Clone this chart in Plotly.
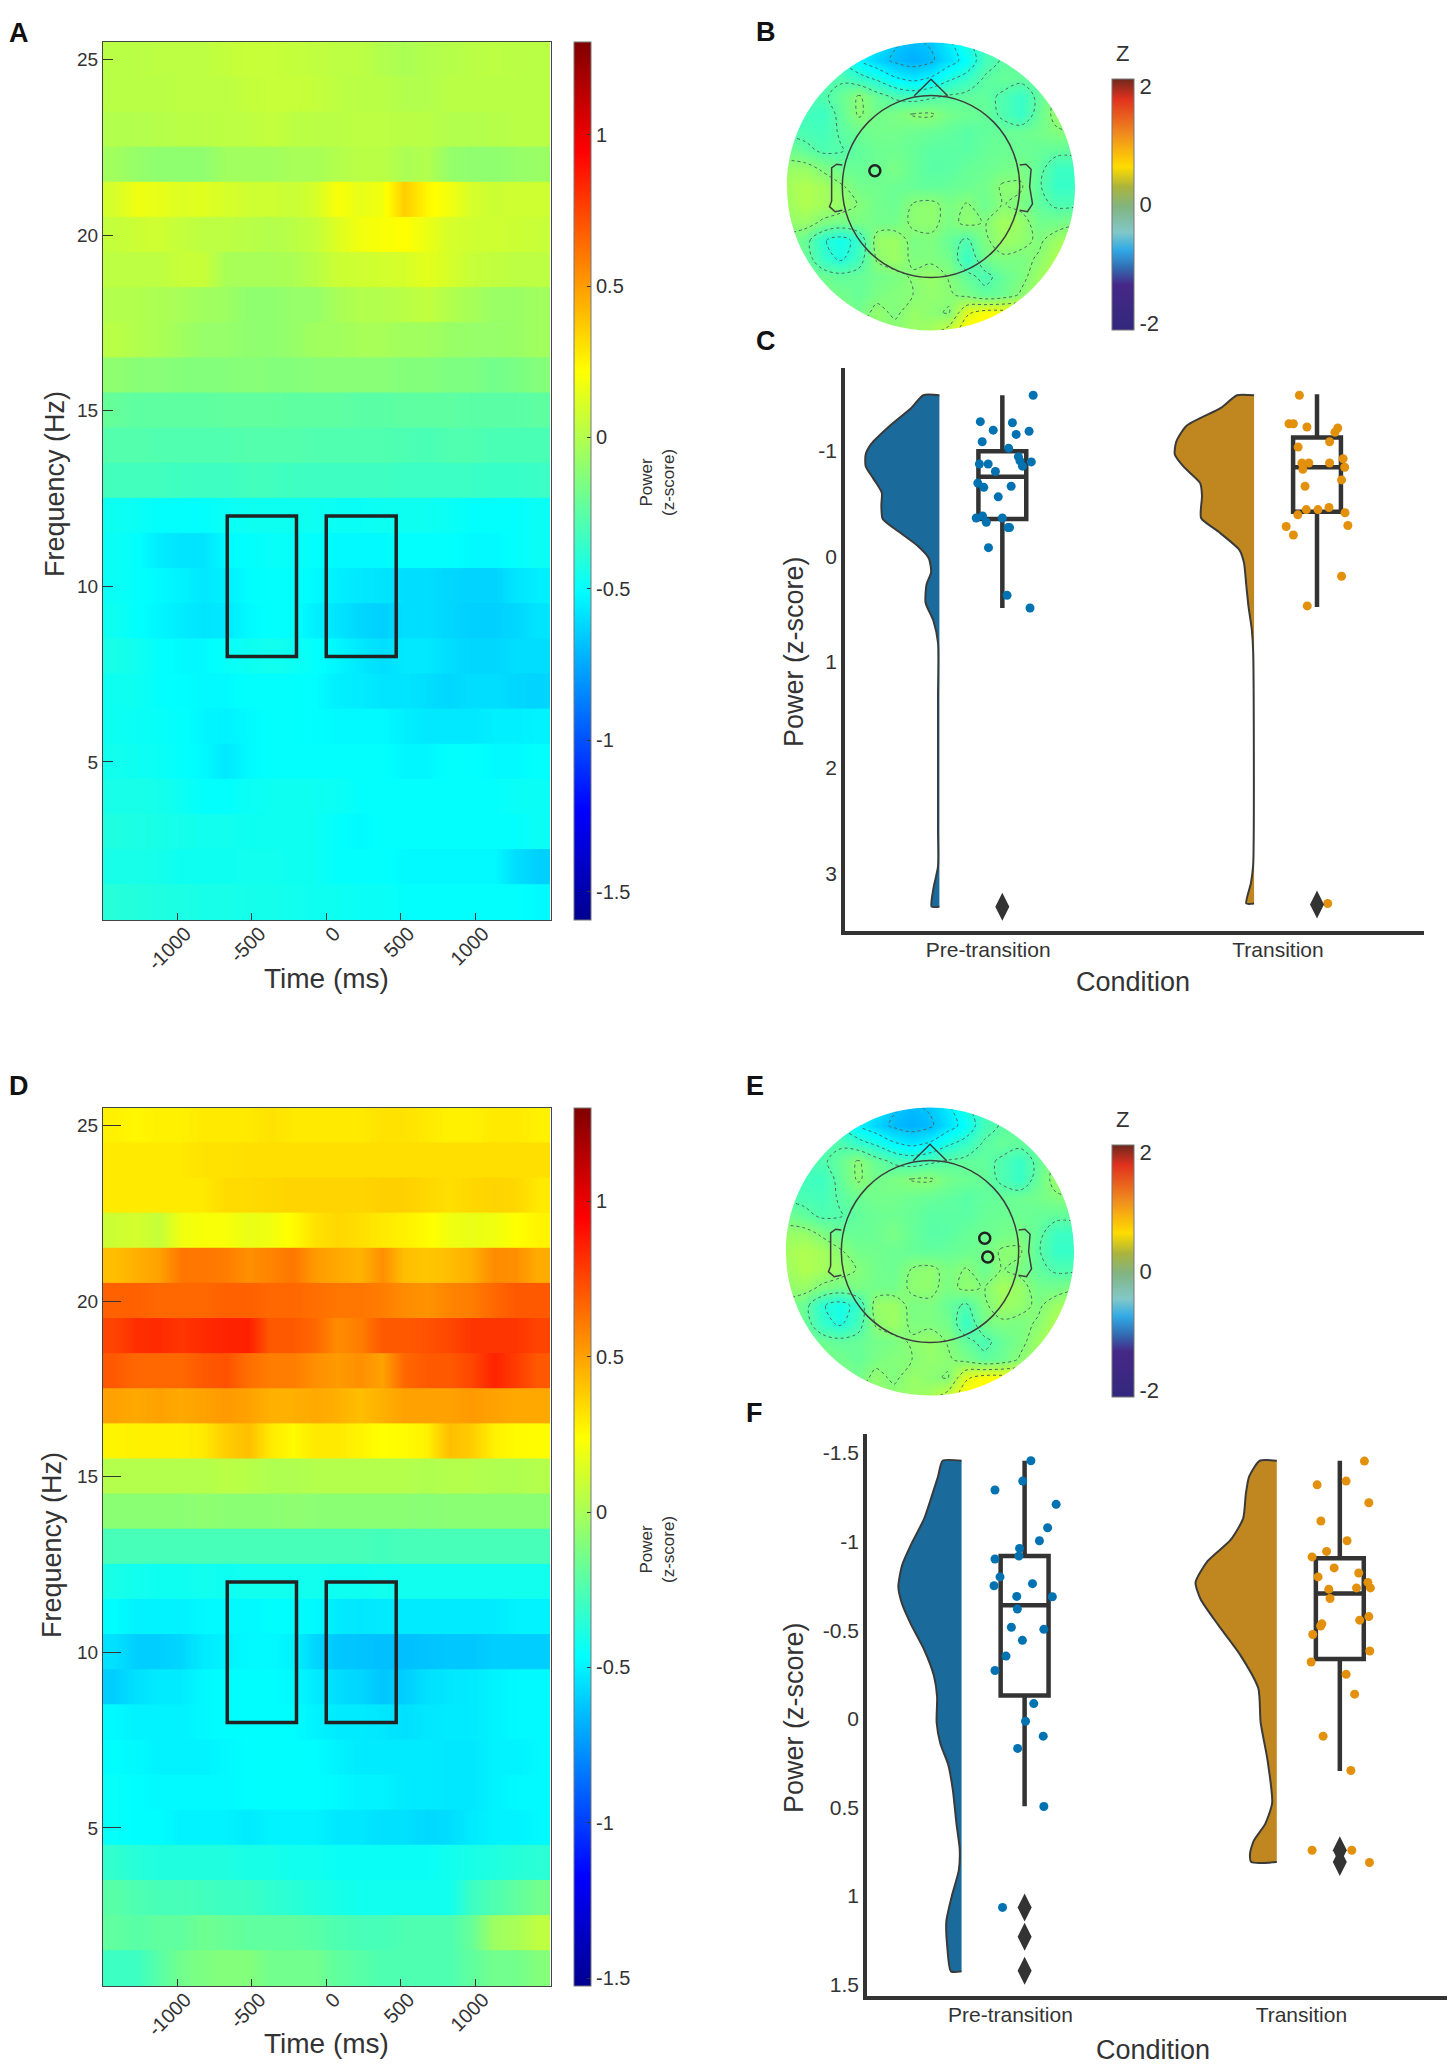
# =========================
# plot.py - power maps, topographies and rainclouds
# =========================
import plotly.graph_objects as go

W, H = 1453, 2067
FONT = "Liberation Sans"
DARK = "#333333"

# =========================
# Time-frequency data
# =========================
time_bins = [-1425, -1275, -1125, -975, -825, -675, -525, -375, -225, -75,
             75, 225, 375, 525, 675, 825, 975, 1125, 1275, 1425]
freq_bins = [25, 24, 23, 22, 21, 20, 19, 18, 17, 16, 15, 14, 13,
             12, 11, 10, 9, 8, 7, 6, 5, 4, 3, 2, 1]

power_a = [
    [.02, .02, .03, .03, .03, .05, .06, .06, .05, .04, .03, .03, .0, -.02, .0, .01, .02, .03, .02, .02],
    [.02, .02, .02, .03, .03, .03, .05, .06, .06, .05, .03, .02, .02, .0, .0, .02, .02, .02, .02, .02],
    [.0, .0, .01, .02, .02, .03, .03, .05, .03, .02, .02, .03, .03, .02, .02, .0, .0, .01, .02, .02],
    [-.05, -.08, -.1, -.1, -.1, -.05, -.05, -.05, -.03, -.03, .0, .02, .02, -.02, .0, -.08, -.1, -.1, -.08, -.07],
    [.1, .17, .15, .12, .13, .1, .08, .08, .06, .1, .2, .15, .18, .36, .24, .18, .1, .07, .08, .08],
    [.05, .07, .08, .05, .03, .03, .02, .0, .02, .05, .12, .18, .2, .22, .16, .1, .08, .08, .07, .06],
    [.03, .03, .03, .06, .06, -.03, -.03, -.03, -.02, .02, .07, .08, .09, .1, .14, .1, .06, .04, .03, .03],
    [.0, .0, -.02, -.03, -.05, -.06, -.1, -.1, -.08, -.08, -.03, .0, .0, .02, .04, .0, -.03, -.07, -.07, -.05],
    [.02, .0, -.02, -.05, -.08, -.08, -.1, -.1, -.08, -.05, -.05, -.03, -.03, -.05, -.05, -.07, -.08, -.08, -.07, -.05],
    [-.1, -.12, -.12, -.13, -.13, -.13, -.12, -.13, -.13, -.12, -.12, -.12, -.12, -.13, -.13, -.15, -.15, -.18, -.16, -.13],
    [-.22, -.24, -.24, -.24, -.24, -.23, -.23, -.23, -.24, -.24, -.24, -.25, -.25, -.24, -.24, -.24, -.25, -.25, -.25, -.24],
    [-.27, -.27, -.28, -.28, -.28, -.28, -.27, -.27, -.27, -.28, -.28, -.28, -.28, -.29, -.3, -.28, -.28, -.3, -.3, -.3],
    [-.32, -.32, -.32, -.33, -.33, -.33, -.32, -.32, -.33, -.33, -.33, -.33, -.33, -.34, -.34, -.34, -.34, -.35, -.35, -.34],
    [-.47, -.48, -.5, -.5, -.5, -.48, -.47, -.47, -.47, -.47, -.48, -.48, -.47, -.47, -.47, -.48, -.5, -.5, -.5, -.48],
    [-.48, -.5, -.56, -.58, -.58, -.52, -.5, -.49, -.49, -.5, -.52, -.52, -.52, -.5, -.5, -.5, -.52, -.52, -.5, -.48],
    [-.48, -.5, -.52, -.54, -.57, -.55, -.51, -.5, -.5, -.52, -.55, -.57, -.58, -.6, -.6, -.62, -.63, -.63, -.58, -.55],
    [-.47, -.5, -.53, -.56, -.58, -.57, -.52, -.5, -.5, -.55, -.58, -.62, -.64, -.6, -.6, -.62, -.64, -.64, -.62, -.58],
    [-.44, -.46, -.5, -.52, -.52, -.49, -.47, -.46, -.47, -.5, -.53, -.57, -.6, -.57, -.57, -.6, -.62, -.62, -.6, -.6],
    [-.47, -.47, -.5, -.51, -.52, -.52, -.5, -.5, -.5, -.51, -.55, -.56, -.58, -.58, -.6, -.62, -.6, -.6, -.62, -.63],
    [-.47, -.48, -.49, -.5, -.53, -.54, -.52, -.5, -.5, -.51, -.52, -.52, -.52, -.55, -.57, -.57, -.57, -.55, -.55, -.54],
    [-.46, -.47, -.48, -.5, -.52, -.57, -.52, -.5, -.5, -.5, -.5, -.5, -.5, -.53, -.53, -.5, -.5, -.52, -.52, -.5],
    [-.44, -.44, -.45, -.47, -.5, -.5, -.48, -.47, -.47, -.47, -.48, -.5, -.5, -.5, -.5, -.5, -.5, -.5, -.48, -.48],
    [-.42, -.43, -.44, -.45, -.46, -.46, -.47, -.47, -.47, -.47, -.5, -.52, -.5, -.5, -.5, -.5, -.5, -.5, -.5, -.48],
    [-.44, -.44, -.45, -.47, -.47, -.47, -.46, -.46, -.47, -.47, -.5, -.5, -.5, -.52, -.52, -.52, -.52, -.52, -.6, -.64],
    [-.4, -.41, -.42, -.43, -.44, -.44, -.45, -.45, -.46, -.47, -.47, -.48, -.48, -.5, -.5, -.5, -.5, -.5, -.5, -.52],
]

power_d = [
    [.28, .26, .28, .28, .3, .3, .3, .32, .3, .3, .3, .3, .32, .32, .3, .28, .28, .3, .3, .28],
    [.3, .3, .3, .3, .32, .32, .33, .33, .33, .33, .33, .33, .33, .33, .33, .33, .33, .33, .33, .33],
    [.3, .3, .3, .3, .3, .34, .34, .35, .36, .36, .36, .36, .37, .37, .35, .33, .35, .36, .35, .3],
    [.1, .12, .08, .2, .22, .22, .18, .2, .25, .32, .35, .33, .3, .28, .25, .2, .18, .2, .24, .27],
    [.42, .46, .5, .62, .62, .6, .55, .58, .62, .52, .48, .45, .55, .42, .4, .42, .46, .56, .55, .47],
    [.68, .68, .66, .66, .66, .68, .68, .66, .66, .64, .62, .62, .6, .56, .54, .58, .6, .66, .7, .7],
    [.76, .82, .83, .8, .83, .85, .86, .7, .7, .66, .56, .6, .7, .7, .72, .75, .8, .8, .8, .76],
    [.7, .66, .66, .66, .7, .72, .64, .6, .6, .55, .52, .55, .5, .66, .7, .7, .75, .85, .78, .7],
    [.5, .48, .5, .48, .5, .52, .5, .46, .46, .48, .46, .42, .46, .5, .5, .5, .52, .5, .48, .48],
    [.27, .28, .28, .28, .3, .38, .42, .3, .25, .3, .3, .27, .24, .25, .28, .42, .38, .28, .25, .25],
    [.03, .03, .03, .03, .03, .05, .04, .02, .02, .03, .03, .03, .03, .03, .02, .03, .03, .02, .02, .03],
    [-.08, -.08, -.08, -.08, -.07, -.08, -.08, -.08, -.07, -.08, -.08, -.08, -.08, -.08, -.09, -.08, -.08, -.08, -.08, -.08],
    [-.27, -.27, -.27, -.27, -.27, -.27, -.27, -.27, -.27, -.27, -.27, -.27, -.28, -.27, -.27, -.27, -.27, -.27, -.27, -.27],
    [-.4, -.42, -.43, -.43, -.42, -.43, -.42, -.42, -.42, -.42, -.43, -.43, -.42, -.42, -.42, -.42, -.42, -.42, -.42, -.42],
    [-.47, -.5, -.5, -.5, -.48, -.48, -.48, -.47, -.47, -.48, -.52, -.53, -.52, -.52, -.52, -.52, -.52, -.52, -.5, -.5],
    [-.55, -.6, -.6, -.58, -.52, -.5, -.48, -.48, -.5, -.58, -.62, -.63, -.64, -.64, -.63, -.62, -.62, -.6, -.6, -.6],
    [-.6, -.55, -.52, -.52, -.48, -.47, -.47, -.47, -.48, -.52, -.56, -.58, -.62, -.6, -.55, -.53, -.52, -.5, -.48, -.48],
    [-.48, -.5, -.5, -.5, -.48, -.47, -.47, -.47, -.47, -.5, -.52, -.52, -.53, -.55, -.53, -.52, -.52, -.5, -.48, -.48],
    [-.47, -.48, -.5, -.5, -.5, -.48, -.47, -.47, -.47, -.47, -.5, -.52, -.52, -.52, -.52, -.53, -.53, -.5, -.5, -.48],
    [-.45, -.47, -.48, -.48, -.48, -.48, -.47, -.47, -.47, -.47, -.48, -.5, -.5, -.52, -.52, -.53, -.53, -.5, -.48, -.48],
    [-.45, -.47, -.47, -.5, -.5, -.5, -.52, -.5, -.5, -.5, -.53, -.53, -.55, -.55, -.57, -.56, -.52, -.5, -.5, -.48],
    [-.33, -.36, -.38, -.38, -.38, -.38, -.4, -.4, -.42, -.42, -.44, -.44, -.44, -.44, -.44, -.42, -.4, -.38, -.36, -.35],
    [-.22, -.25, -.27, -.27, -.28, -.3, -.3, -.33, -.35, -.38, -.4, -.42, -.42, -.42, -.42, -.42, -.3, -.25, -.2, -.15],
    [-.2, -.22, -.2, -.2, -.16, -.18, -.2, -.2, -.2, -.22, -.25, -.27, -.27, -.25, -.25, -.25, -.18, -.03, .0, .06],
    [-.3, -.3, -.22, -.15, -.12, -.1, -.1, -.15, -.15, -.15, -.2, -.22, -.25, -.25, -.25, -.25, -.2, -.15, -.15, -.1],
]

# janelas pre e pos transicao (ms, Hz)
windows_time = [[-665, -200], [0, 470]]
windows_freq = [8, 12]

# =========================
# Topography data
# =========================
topo_x = [-1, -.875, -.75, -.625, -.5, -.375, -.25, -.125, 0, .125, .25, .375, .5, .625, .75, .875, 1]
topo_y = [1, .875, .75, .625, .5, .375, .25, .125, 0, -.125, -.25, -.375, -.5, -.625, -.75, -.875, -1]
topo_z = [
    [-.2, -.2, -.25, -.3, -.45, -.6, -.75, -.8, -.75, -.6, -.4, -.25, -.15, -.1, -.1, -.1, -.1],
    [-.2, -.2, -.25, -.35, -.55, -.7, -.8, -.85, -.8, -.65, -.5, -.25, -.15, -.1, -.08, -.05, -.05],
    [-.2, -.2, -.2, -.2, -.3, -.4, -.55, -.62, -.55, -.4, -.3, -.15, -.1, -.12, -.1, -.05, 0],
    [-.2, -.2, -.2, -.1, .05, -.1, -.2, -.25, -.2, -.15, -.12, -.12, -.2, -.3, -.12, .05, .1],
    [-.25, -.25, -.28, -.12, .05, -.05, -.02, .04, .05, -.05, -.08, -.1, -.2, -.3, -.1, .1, .15],
    [-.2, -.22, -.25, -.15, -.08, -.05, -.05, -.08, -.1, -.12, -.16, -.12, -.1, -.08, -.05, 0, .02],
    [-.05, -.12, -.2, -.18, -.12, -.08, -.07, -.1, -.15, -.15, -.15, -.1, -.08, -.08, -.1, -.12, -.12],
    [.1, .1, .0, -.08, -.1, -.08, -.02, -.1, -.16, -.15, -.1, -.08, -.05, -.02, -.12, -.28, -.28],
    [.15, .2, .15, .05, -.05, -.06, -.08, -.1, -.12, -.1, -.08, -.05, .05, .05, -.15, -.3, -.3],
    [.12, .2, .15, .1, .02, -.05, -.08, .04, .07, -.02, .04, -.08, .04, -.02, -.12, -.2, -.2],
    [.08, .1, 0, -.05, -.02, -.05, -.05, .06, .07, -.02, .07, .02, .15, .1, -.05, -.05, 0],
    [.0, -.1, -.35, -.45, -.3, .1, .12, -.02, .0, -.1, -.2, .0, .12, .08, .0, .12, .2],
    [0, -.08, -.3, -.4, -.25, .05, .12, 0, .0, -.05, -.3, -.05, 0, -.02, .05, .2, .25],
    [.02, -.02, -.08, -.12, -.1, -.05, -.02, .05, .1, .02, -.12, -.22, -.1, -.02, .12, .25, .25],
    [.05, .02, .0, -.05, -.1, -.02, .02, .03, .08, .05, -.02, -.12, -.08, .05, .15, .25, .25],
    [.05, .05, .05, .02, -.05, .08, 0, .1, .05, .02, .4, .5, .5, .45, .35, .3, .3],
    [.05, .05, .05, .05, .05, .05, .08, .1, .15, .3, .55, .65, .6, .5, .4, .3, .3],
]
elec_b_x, elec_b_y = [-.39], [.11]
elec_e_x, elec_e_y = [.38, .401], [.092, -.038]

# =========================
# Raincloud data - panel C
# =========================
c_pre_vals = [-1.52, -1.4, -1.23, -1.06, -.96, -.85, -.73, -.6, -.48, -.35, -.23, -.1, .02, .15, .27, .44, .61, .82, 1.33, 2.59, 2.93, 3.14, 3.31]
c_pre_dens = [35, 61, 108, 148, 160, 160, 143, 125, 126, 123, 88, 48, 23, 18, 28, 30, 13, 3, 3, 3, 3, 13, 17]
c_tra_vals = [-1.52, -1.4, -1.23, -1.08, -.96, -.84, -.69, -.57, -.36, -.23, -.06, .06, .27, .48, .69, .9, 2.92, 3.09, 3.28]
c_tra_dens = [37, 72, 147, 169, 172, 152, 117, 113, 115, 77, 32, 22, 17, 12, 5, 2, 2, 7, 17]

c_pre_jit = [.098, -.07, .032, -.029, .085, .044, -.064, .02, .051, .056, .064, .092, -.073, -.045, -.022, -.078, -.059, .028, -.013, -.083, -.063, -.051, 0, .018, .023, -.044, .015, .088, 0]
c_pre_pts = [-1.52, -1.27, -1.26, -1.19, -1.18, -1.15, -1.08, -1.02, -.94, -.9, -.85, -.89, -.87, -.87, -.8, -.69, -.65, -.66, -.56, -.36, -.38, -.32, -.36, -.27, -.27, -.08, .37, .49, 3.31]
c_tra_jit = [-.056, -.089, -.075, -.032, .066, .057, .04, -.06, .083, -.048, -.026, .04, .088, -.045, .078, -.038, -.034, .003, .038, -.061, .089, -.098, .098, -.075, .078, -.031, .034]
c_tra_pts = [-1.52, -1.25, -1.25, -1.22, -1.21, -1.17, -1.08, -1.03, -.92, -.88, -.88, -.88, -.84, -.82, -.72, -.66, -.44, -.44, -.46, -.39, -.41, -.28, -.29, -.2, .19, .47, 3.28]

c_pre_box = dict(lowerfence=-1.52, q1=-.99, median=-.75, q3=-.35, upperfence=.49)
c_tra_box = dict(lowerfence=-1.53, q1=-1.12, median=-.84, q3=-.42, upperfence=.48)
c_pre_out = [3.31]
c_tra_out = [3.29]

# =========================
# Raincloud data - panel F
# =========================
f_pre_vals = [-1.457, -1.368, -1.27, -1.13, -.986, -.866, -.746, -.65, -.53, -.39, -.244, -.124, .02, .139, .258, .4, .593, .737, .856, 1.0, 1.144, 1.287, 1.426]
f_pre_dens = [41, 51, 63, 81, 109, 129, 137, 129, 109, 81, 60, 53, 54, 46, 29, 19, 11, 4, 6, 21, 33, 31, 23]
f_tra_vals = [-1.457, -1.368, -1.27, -1.13, -1.01, -.89, -.77, -.675, -.53, -.364, -.172, .02, .234, .474, .593, .689, .761, .809]
f_tra_dens = [37, 60, 67, 73, 100, 150, 176, 165, 127, 80, 40, 35, 20, 10, 25, 50, 58, 55]

f_pre_jit = [.02, -.006, -.094, .1, .073, .047, -.016, -.094, -.018, -.078, .025, -.097, -.025, .088, -.023, -.042, .061, -.007, -.059, -.094, .029, .003, .059, -.022, .061, -.07, 0, 0]
f_pre_pts = [-1.457, -1.342, -1.292, -1.211, -1.079, -1.005, -.962, -.902, -.919, -.801, -.763, -.751, -.691, -.689, -.62, -.517, -.505, -.443, -.354, -.273, -.086, .014, .098, .167, .495, 1.065, 1.23, 1.423]
f_tra_jit = [.078, .02, -.072, .092, -.06, .023, -.042, -.088, -.018, .06, -.069, .089, .053, .097, -.035, -.031, .092, .063, -.057, -.061, -.086, .095, -.091, .02, .047, -.053, .035, -.088, .038, .094]
f_tra_pts = [-1.455, -1.342, -1.321, -1.22, -1.117, -1.005, -.945, -.914, -.852, -.823, -.801, -.77, -.739, -.739, -.732, -.679, -.577, -.557, -.536, -.524, -.476, -.383, -.321, -.251, -.139, .098, .292, .742, .742, .811]

f_pre_box = dict(lowerfence=-1.457, q1=-.919, median=-.641, q3=-.132, upperfence=.493)
f_tra_box = dict(lowerfence=-1.457, q1=-.907, median=-.708, q3=-.337, upperfence=.294)
f_pre_out = [1.065, 1.23, 1.423]
f_tra_out = [.742, .809]

condition_labels = ["Pre-transition", "Transition"]

# =========================
# Colour scales
# =========================
jet = [[0, "rgb(0,0,143)"], [.125, "rgb(0,0,255)"], [.375, "rgb(0,255,255)"],
       [.625, "rgb(255,255,0)"], [.875, "rgb(255,0,0)"], [1, "rgb(128,0,0)"]]
z_bar = [[0, "rgb(50,40,125)"], [.18, "rgb(70,40,135)"], [.25, "rgb(50,110,180)"],
         [.32, "rgb(50,170,230)"], [.39, "rgb(130,200,200)"], [.49, "rgb(130,180,130)"],
         [.57, "rgb(170,180,60)"], [.65, "rgb(255,220,0)"], [.78, "rgb(240,140,30)"],
         [.92, "rgb(225,50,30)"], [1, "rgb(110,40,30)"]]


# =========================
# Helpers
# =========================
def fx(px):
    return px / W


def fy(py):
    return 1 - py / H


fig = go.Figure()
shapes = []
annotations = []


def text(px, py, s, size, angle=0, bold=False):
    annotations.append(dict(x=fx(px), y=fy(py), xref="paper", yref="paper", text=f"<b>{s}</b>" if bold else s,
                            showarrow=False, textangle=angle, xanchor="center", yanchor="middle",
                            font=dict(family=FONT, size=size, color="#111111" if bold else DARK)))


def add_power(n, z, zmin, zmax, box, tick_len, bar_px):
    left, top, right, bottom = box
    xa, ya = f"xaxis{n}", f"yaxis{n}"
    bar = dict(x=fx(bar_px[0]), xanchor="left", xpad=0, ypad=0, y=fy((top + bottom) / 2), yanchor="middle",
               lenmode="fraction", len=(bottom - top) / H, thicknessmode="pixels", thickness=bar_px[1],
               tickvals=[-1.5, -1, -.5, 0, .5, 1], ticktext=["-1.5", "-1", "-0.5", "0", "0.5", "1"],
               ticks="inside", ticklen=4, tickcolor=DARK, outlinecolor="#777777", outlinewidth=1,
               tickfont=dict(family=FONT, size=20, color=DARK))
    # uma linha por frequencia: suave no tempo, degrau na frequencia (leve sobreposicao evita frestas)
    for i, (freq, row) in enumerate(zip(freq_bins, z)):
        fig.add_trace(go.Heatmap(
            x=time_bins, y=[freq - .26, freq + .26], z=[row, row], zmin=zmin, zmax=zmax, colorscale=jet,
            zsmooth="best", showscale=i == 0, colorbar=bar, xaxis=f"x{n}", yaxis=f"y{n}",
        ))
    fig.update_layout({
        xa: dict(domain=[fx(left), fx(right)], range=[-1500, 1510], anchor=f"y{n}", tickvals=[-1000, -500, 0, 500, 1000],
                 ticktext=["-1000", "-500", "0", "500", "1000"], tickangle=-45, ticks="inside", ticklen=7,
                 ticklabelstandoff=-7, ticklabelshift=8,
                 tickcolor=DARK, showgrid=False, zeroline=False, showline=True, mirror=True, linecolor="#444444", linewidth=1.2,
                 tickfont=dict(family=FONT, size=20, color=DARK)),
        ya: dict(domain=[fy(bottom), fy(top)], range=[.5, 25.5], anchor=f"x{n}", tickvals=[5, 10, 15, 20, 25],
                 ticks="inside", ticklen=tick_len, tickcolor=DARK, showgrid=False, zeroline=False, showline=True,
                 mirror=True, linecolor="#444444", linewidth=1.2, tickfont=dict(family=FONT, size=19, color=DARK)),
    })
    for t0, t1 in windows_time:
        shapes.append(dict(type="rect", xref=f"x{n}", yref=f"y{n}", x0=t0, x1=t1, y0=windows_freq[0], y1=windows_freq[1],
                           line=dict(color="#222222", width=3.5)))


def add_topo(n, centre, elec_x, elec_y, bar_box):
    cx, cy = centre
    # raio 144 px = 1 unidade; eixo com folga para a mascara cobrir todo o mapa
    half = 144 * 1.1
    fig.add_trace(go.Heatmap(x=topo_x, y=topo_y, z=topo_z, zmin=-2.1, zmax=2.1, colorscale=jet, zsmooth="best",
                             showscale=False, xaxis=f"x{n}", yaxis=f"y{n}"))
    fig.add_trace(go.Contour(x=topo_x, y=topo_y, z=topo_z, showscale=False, xaxis=f"x{n}", yaxis=f"y{n}",
                             contours=dict(coloring="none", start=-.77, end=.6, size=.2),
                             line=dict(color="#4a6a60", width=1, dash="dot", smoothing=1)))
    fig.add_trace(go.Scatter(x=elec_x, y=elec_y, mode="markers", xaxis=f"x{n}", yaxis=f"y{n}",
                             marker=dict(symbol="circle-open", size=11, color="#222222", line=dict(width=2.5, color="#222222"))))
    # barra de cor separada da escala do mapa
    fig.add_trace(go.Scatter(x=[0], y=[0], mode="markers", xaxis=f"x{n}", yaxis=f"y{n}", hoverinfo="skip",
                             marker=dict(size=1, opacity=0, color=[0], cmin=-2.12, cmax=2.12, colorscale=z_bar, showscale=True,
                                         colorbar=dict(x=fx(bar_box[0]), xanchor="left", xpad=0, ypad=0,
                                                       y=fy((bar_box[1] + bar_box[2]) / 2), yanchor="middle", lenmode="fraction",
                                                       len=(bar_box[2] - bar_box[1]) / H, thicknessmode="pixels", thickness=22,
                                                       tickvals=[-2, 0, 2], ticktext=["-2", "0", "2"], ticks="",
                                                       outlinecolor="#777777", outlinewidth=1,
                                                       tickfont=dict(family=FONT, size=22, color=DARK)))))
    fig.update_layout({
        f"xaxis{n}": dict(domain=[fx(cx - half), fx(cx + half)], range=[-1.1, 1.1], anchor=f"y{n}", visible=False),
        f"yaxis{n}": dict(domain=[fy(cy + half), fy(cy - half)], range=[-1.1, 1.1], anchor=f"x{n}", visible=False),
    })
    ring = ("M -1.3 -1.3 L 1.3 -1.3 L 1.3 1.3 L -1.3 1.3 Z "
            "M 1 0 C 1 .5523 .5523 1 0 1 C -.5523 1 -1 .5523 -1 0 C -1 -.5523 -.5523 -1 0 -1 C .5523 -1 1 -.5523 1 0 Z")
    shapes.append(dict(type="path", path=ring, xref=f"x{n}", yref=f"y{n}", fillcolor="white", line=dict(width=0)))
    outline = dict(color="#3d3d3d", width=1.5)
    shapes.append(dict(type="circle", xref=f"x{n}", yref=f"y{n}", x0=-.616, x1=.616, y0=-.632, y1=.632, line=outline))
    shapes.append(dict(type="path", xref=f"x{n}", yref=f"y{n}", path="M -.116 .63 L 0 .745 L .116 .63", line=outline))
    shapes.append(dict(type="path", xref=f"x{n}", yref=f"y{n}", line=outline,
                       path="M -.616 .15 L -.655 .155 L -.69 .13 L -.69 -.1 L -.705 -.14 L -.665 -.175 L -.616 -.165"))
    shapes.append(dict(type="path", xref=f"x{n}", yref=f"y{n}", line=outline,
                       path="M .616 .15 L .66 .155 L .695 .12 L .685 .0 L .705 -.12 L .67 -.175 L .616 -.165"))


def add_cloud(n, vals, dens, pos, colour):
    edge = pos - .2
    xs = [edge] + [edge - d / 683 for d in dens] + [edge]
    ys = [vals[0]] + vals + [vals[-1]]
    fig.add_trace(go.Scatter(x=xs, y=ys, mode="lines", fill="toself", fillcolor=colour, xaxis=f"x{n}", yaxis=f"y{n}",
                             line=dict(color="#3a3a3a", width=2, shape="spline", smoothing=.6)))


def add_rain(n, pos, jit, pts, stats, out, colour):
    fig.add_trace(go.Scatter(x=[pos + j for j in jit], y=pts, mode="markers", xaxis=f"x{n}", yaxis=f"y{n}",
                             marker=dict(color=colour, size=9)))
    fig.add_trace(go.Box(x=[pos], q1=[stats["q1"]], median=[stats["median"]], q3=[stats["q3"]],
                         lowerfence=[stats["lowerfence"]], upperfence=[stats["upperfence"]],
                         width=.152, whiskerwidth=0, fillcolor="rgba(0,0,0,0)", boxpoints=False,
                         line=dict(color=DARK, width=4.5), xaxis=f"x{n}", yaxis=f"y{n}"))
    fig.add_trace(go.Scatter(x=[pos] * len(out), y=out, mode="markers", xaxis=f"x{n}", yaxis=f"y{n}",
                             marker=dict(symbol="diamond-tall", size=20, color=DARK)))


def style_rain(n, box, yrange, ytickvals, yticktext, xticks):
    left, top, right, bottom = box
    fig.update_layout({
        f"xaxis{n}": dict(domain=[fx(left), fx(right)], range=[-.5, 1.34], anchor=f"y{n}", tickvals=xticks, ticktext=condition_labels,
                          showgrid=False, zeroline=False, showline=True, linecolor=DARK, linewidth=3.5, ticks="",
                          ticklabelstandoff=-3, tickfont=dict(family=FONT, size=21, color=DARK)),
        f"yaxis{n}": dict(domain=[fy(bottom), fy(top)], range=yrange, anchor=f"x{n}", tickvals=ytickvals, ticktext=yticktext,
                          showgrid=False, zeroline=False, showline=True, linecolor=DARK, linewidth=3.5, ticks="",
                          tickfont=dict(family=FONT, size=21, color=DARK)),
    })


# =========================
# Panels
# =========================
BLUE_FILL, GOLD_FILL = "#1a6b9c", "#c08721"
BLUE_DOT, GOLD_DOT = "#0072b2", "#e3900c"

add_power(1, power_a, -1.594, 1.306, (103, 42, 551, 920), 10, (574, 17))
add_power(2, power_d, -1.525, 1.3, (103, 1108, 551, 1986), 18, (574, 17))

add_topo(3, (931, 186.5), elec_b_x, elec_b_y, (1112, 79, 330))
add_topo(4, (930, 1251.5), elec_e_x, elec_e_y, (1112, 1145, 1397))

add_cloud(5, c_pre_vals, c_pre_dens, 0, BLUE_FILL)
add_cloud(5, c_tra_vals, c_tra_dens, 1, GOLD_FILL)
add_rain(5, 0, c_pre_jit, c_pre_pts, c_pre_box, c_pre_out, BLUE_DOT)
add_rain(5, 1, c_tra_jit, c_tra_pts, c_tra_box, c_tra_out, GOLD_DOT)
style_rain(5, (845, 368, 1424, 931), [3.54, -1.777], [-1, 0, 1, 2, 3], ["-1", "0", "1", "2", "3"], [-.045, .876])

add_cloud(6, f_pre_vals, f_pre_dens, 0, BLUE_FILL)
add_cloud(6, f_tra_vals, f_tra_dens, 1, GOLD_FILL)
add_rain(6, 0, f_pre_jit, f_pre_pts, f_pre_box, f_pre_out, BLUE_DOT)
add_rain(6, 1, f_tra_jit, f_tra_pts, f_tra_box, f_tra_out, GOLD_DOT)
style_rain(6, (867, 1434, 1447, 1996), [1.565, -1.608], [-1.5, -1, -.5, 0, .5, 1, 1.5],
           ["-1.5", "-1", "-0.5", "0", "0.5", "1", "1.5"], [-.045, .878])

# =========================
# Text
# =========================
text(326, 978, "Time (ms)", 28)
text(55, 484, "Frequency (Hz)", 27, angle=-90)
text(326, 2043, "Time (ms)", 28)
text(52, 1545, "Frequency (Hz)", 27, angle=-90)
text(794, 652, "Power (z-score)", 27, angle=-90)
text(1133, 982, "Condition", 27)
text(794, 1718, "Power (z-score)", 27, angle=-90)
text(1153, 2050, "Condition", 27)
text(657, 483, "Power<br>(z-score)", 17, angle=-90)
text(657, 1550, "Power<br>(z-score)", 17, angle=-90)
text(1122, 53, "Z", 22)
text(1122, 1119, "Z", 22)
for letter, px, py in [("A", 19, 33), ("B", 766, 32), ("C", 766, 341), ("D", 19, 1086), ("E", 755, 1086), ("F", 755, 1413)]:
    text(px, py, letter, 27, bold=True)

fig.update_layout(
    width=W, height=H, margin=dict(l=0, r=0, t=0, b=0), showlegend=False,
    template="none", paper_bgcolor="white", plot_bgcolor="white",
    shapes=shapes, annotations=annotations,
)

fig.write_html("out.html", config={"displayModeBar": False}, post_script="document.body.style.margin='0';")
